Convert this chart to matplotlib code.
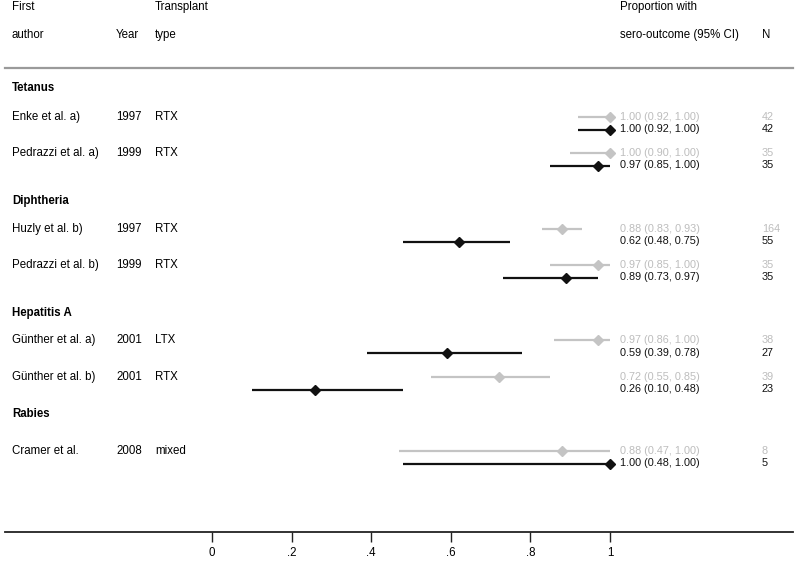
import matplotlib
matplotlib.use("Agg")
import matplotlib.pyplot as plt
import matplotlib.transforms as mtransforms

plt.rcParams["font.family"] = ["Liberation Sans", "DejaVu Sans"]

# =========================
# DATOS
# =========================
groups = ["Tetanus", "Diphtheria", "Hepatitis A", "Rabies"]
group_of_study = [0, 0, 1, 1, 2, 2, 3]
authors = ["Enke et al. a)", "Pedrazzi et al. a)", "Huzly et al. b)", "Pedrazzi et al. b)",
           "Günther et al. a)", "Günther et al. b)", "Cramer et al."]
years = ["1997", "1999", "1997", "1999", "2001", "2001", "2008"]
tx_type = ["RTX", "RTX", "RTX", "RTX", "LTX", "RTX", "mixed"]

# serie gris (controles)
gray_est = [1.00, 1.00, 0.88, 0.97, 0.97, 0.72, 0.88]
gray_lo = [0.92, 0.90, 0.83, 0.85, 0.86, 0.55, 0.47]
gray_hi = [1.00, 1.00, 0.93, 1.00, 1.00, 0.85, 1.00]
gray_n = [42, 35, 164, 35, 38, 39, 8]

# serie negra (trasplantados)
black_est = [1.00, 0.97, 0.62, 0.89, 0.59, 0.26, 1.00]
black_lo = [0.92, 0.85, 0.48, 0.73, 0.39, 0.10, 0.48]
black_hi = [1.00, 1.00, 0.75, 0.97, 0.78, 0.48, 1.00]
black_n = [42, 35, 55, 35, 27, 23, 5]

xticks = [0, 0.2, 0.4, 0.6, 0.8, 1.0]
xtick_labels = ["0", ".2", ".4", ".6", ".8", "1"]

# =========================
# LAYOUT (pixeles)
# =========================
W, H = 798, 561
X0_PX, X1_PX = 212, 610       # posicion de 0 y 1
AXIS_Y = 532
GRAY = "#c4c4c4"
GRAY_TXT = "#bdbdbd"
BLACK = "#111111"
FS = 8.3

def px2v(px):
    return (px - X0_PX) / (X1_PX - X0_PX)

# filas: y de encabezado de grupo y de cada estudio
group_y = [88, 201, 313, 414]
study_y = [117, 153, 229, 265, 340, 377, 451]
OFF = 12.5

fig = plt.figure(figsize=(W / 100, H / 100), dpi=100)
ax = fig.add_axes([5 / W, (H - AXIS_Y) / H, (793 - 5) / W, AXIS_Y / H])
ax.set_xlim(px2v(5), px2v(793))
ax.set_ylim(AXIS_Y, 0)
for s in ["top", "left", "right"]:
    ax.spines[s].set_visible(False)
ax.spines["bottom"].set_linewidth(1.3)
ax.spines["bottom"].set_color("#222222")
ax.set_yticks([])
ax.set_xticks(xticks)
ax.set_xticklabels(xtick_labels, fontsize=FS)
ax.tick_params(axis="x", length=7, width=1.0, pad=4, color="#222222")

tr = mtransforms.blended_transform_factory(fig.transFigure, ax.transData)
col_author, col_year, col_type, col_ci, col_n = 12 / W, 116 / W, 155 / W, 620 / W, 762 / W

# encabezados
ax.text(col_author, 7, "First", transform=tr, va="center", fontsize=FS)
ax.text(col_author, 35, "author", transform=tr, va="center", fontsize=FS)
ax.text(col_year, 35, "Year", transform=tr, va="center", fontsize=FS)
ax.text(col_type, 7, "Transplant", transform=tr, va="center", fontsize=FS)
ax.text(col_type, 35, "type", transform=tr, va="center", fontsize=FS)
ax.text(col_ci, 7, "Proportion with", transform=tr, va="center", fontsize=FS)
ax.text(col_ci, 35, "sero-outcome (95% CI)", transform=tr, va="center", fontsize=FS)
ax.text(col_n, 35, "N", transform=tr, va="center", fontsize=FS)

ax.plot([5 / W, 793 / W], [68, 68], transform=tr, color="#9a9a9a", lw=1.6, clip_on=False)

for g, y in zip(groups, group_y):
    ax.text(col_author, y, g, transform=tr, va="center", fontsize=FS, fontweight="bold")

for i, y in enumerate(study_y):
    ax.text(col_author, y, authors[i], transform=tr, va="center", fontsize=FS)
    ax.text(col_year, y, years[i], transform=tr, va="center", fontsize=FS)
    ax.text(col_type, y, tx_type[i], transform=tr, va="center", fontsize=FS)

    yg = y
    yb = y + OFF
    ax.plot([gray_lo[i], gray_hi[i]], [yg, yg], color=GRAY, lw=1.6, solid_capstyle="butt")
    ax.plot(gray_est[i], yg, marker="D", color=GRAY, ms=4.8)
    ax.plot([black_lo[i], black_hi[i]], [yb, yb], color=BLACK, lw=1.6, solid_capstyle="butt")
    ax.plot(black_est[i], yb, marker="D", color=BLACK, ms=4.8)

    ax.text(col_ci, yg, f"{gray_est[i]:.2f} ({gray_lo[i]:.2f}, {gray_hi[i]:.2f})",
            transform=tr, va="center", fontsize=FS - 0.5, color=GRAY_TXT)
    ax.text(col_ci, yb, f"{black_est[i]:.2f} ({black_lo[i]:.2f}, {black_hi[i]:.2f})",
            transform=tr, va="center", fontsize=FS - 0.5, color=BLACK)
    ax.text(col_n, yg, str(gray_n[i]), transform=tr, va="center", fontsize=FS - 0.5, color=GRAY_TXT)
    ax.text(col_n, yb, str(black_n[i]), transform=tr, va="center", fontsize=FS - 0.5, color=BLACK)

fig.savefig("out.png", dpi=100)
